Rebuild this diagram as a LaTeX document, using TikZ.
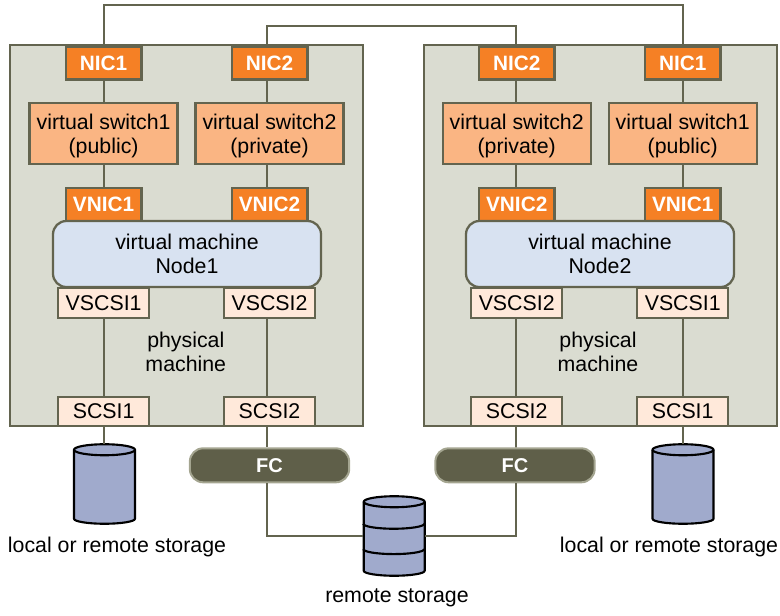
\documentclass[tikz,border=0pt]{standalone}
\usepackage{fontspec}
\setmainfont{Liberation Sans}
\definecolor{wirecol}{HTML}{63644F}
\definecolor{panelcol}{HTML}{DADCD1}
\definecolor{niccol}{HTML}{F58025}
\definecolor{switchcol}{HTML}{FAB583}
\definecolor{vmcol}{HTML}{D8E2F1}
\definecolor{scsicol}{HTML}{FFE9DA}
\definecolor{fccol}{HTML}{5F5F49}
\definecolor{fcedge}{HTML}{A4A590}
\definecolor{diskcol}{HTML}{A0AACC}
\tikzset{
  txt/.style={font=\fontsize{16}{18}\selectfont,align=center,inner sep=0},
  panel/.style={draw=wirecol,line width=1.5pt,fill=panelcol,minimum width=264.8pt,minimum height=285.8pt},
  nicbox/.style={txt,draw=wirecol,line width=2pt,fill=niccol,text=white,font=\fontsize{15.6}{18}\selectfont\bfseries,minimum width=56.5pt,minimum height=24.7pt},
  switchbox/.style={txt,draw=wirecol,line width=1.7pt,fill=switchcol,minimum width=111pt,minimum height=46pt},
  vmbox/.style={txt,draw=wirecol,line width=1.7pt,fill=vmcol,rounded corners=10pt,minimum width=201pt,minimum height=49.5pt},
  scsibox/.style={txt,draw=wirecol,line width=1.5pt,fill=scsicol,minimum width=68.5pt,minimum height=22pt},
  fcbox/.style={txt,draw=fcedge,line width=1.5pt,fill=fccol,text=white,font=\fontsize{15}{18}\selectfont\bfseries,rounded corners=10pt,minimum width=119.5pt,minimum height=25.5pt},
  diskframe/.style={inner sep=0,minimum width=46pt,minimum height=60pt},
  diskline/.style={draw=black,line width=1.6pt,line join=round},
  wire/.style={draw=wirecol,line width=1.4pt}
}
% the can of a storage, hung from the top of its named frame
\newcommand{\diskbody}[1]{
    \begin{scope}[shift={(#1.north)}]
        \filldraw[diskline,fill=diskcol] (-30.5,6) -- (-30.5,75) arc[start angle=180,end angle=0,x radius=30.5,y radius=5] -- (30.5,6) arc[start angle=0,end angle=-180,x radius=30.5,y radius=5.5] -- cycle;
        \draw[diskline] (-30.5,6) arc[start angle=180,end angle=0,x radius=30.5,y radius=5.5];
    \end{scope}
}
\begin{document}
\begin{tikzpicture}[x=0.75pt,y=-0.75pt]
    \useasboundingbox (0,0) rectangle (780,615);
    \node[panel] (panelA) at (186.8,235.8) {};
    \node[panel] (panelB) at (600.2,235.8) {};
    % the four columns, left to right
    \foreach \col/\xc/\num/\kind/\off in {A1/103.6/1/public/0pt,A2/269.5/2/private/-2pt,B2/516.7/2/private/-0.5pt,B1/682.7/1/public/0pt} {
        \node[nicbox] (nic\col) at (\xc,63) {NIC\num};
        \node[switchbox] (switch\col) at (\xc,133.3) {virtual switch\num\\\smash{(\kind)}};
        \node[nicbox] (vnic\col) at (\xc,204.5) {VNIC\num};
        \node[scsibox] (vscsi\col) at (\xc,303) {VSCSI\num};
        \node[scsibox] (scsi\col) at (\xc,411.5) {SCSI\num};
        \draw[wire] ([xshift=\off]nic\col.south) -- ([xshift=\off]switch\col.north);
        \draw[wire] ([xshift=\off]switch\col.south) -- ([xshift=\off]vnic\col.north);
        \draw[wire] ([xshift=\off]vscsi\col.south) -- ([xshift=\off]scsi\col.north);
    }
    \node[vmbox] (vmA) at (187,254) {virtual machine\\Node1};
    \node[vmbox] (vmB) at (600,254) {virtual machine\\Node2};
    \node[txt] (physA) at (185.8,352) {physical\\machine};
    \node[txt] (physB) at (598,352) {physical\\machine};
    \node[fcbox] (fcA) at (269.5,465.3) {FC};
    \node[fcbox] (fcB) at (515,465.3) {FC};
    \node[diskframe] (diskA) at (104.5,484) {};
    \node[diskframe] (diskB) at (683,484) {};
    \node[diskframe] (diskR) at (394.2,536) {};
    \diskbody{diskA}
    \diskbody{diskB}
    \diskbody{diskR}
    % bands of the remote storage
    \draw[diskline] ([yshift=-21pt]diskR.north west) arc[start angle=180,end angle=0,x radius=30.5,y radius=5];
    \draw[diskline] ([yshift=-40pt]diskR.north west) arc[start angle=180,end angle=0,x radius=30.5,y radius=5];
    \node[txt] (labelA) at (117,547) {local or remote storage};
    \node[txt] (labelB) at (669,547) {local or remote storage};
    \node[txt] (labelR) at (397,598) {remote storage};
    % links between the two machines
    \coordinate (topone) at (393,5);
    \coordinate (toptwo) at (393,26);
    \draw[wire] (nicA1.north) |- (topone) -| (nicB1.north);
    \draw[wire] ([xshift=-2pt]nicA2.north) |- (toptwo) -| ([xshift=-0.5pt]nicB2.north);
    \draw[wire] (scsiA1.south) -- (scsiA1.south |- diskA.north);
    \draw[wire] (scsiB1.south) -- (scsiB1.south |- diskB.north);
    \draw[wire] ([xshift=-2pt]scsiA2.south) -- ([xshift=-2pt]fcA.north);
    \draw[wire] ([xshift=-0.5pt]scsiB2.south) -- ([xshift=0.7pt]fcB.north);
    \draw[wire] ([xshift=-2pt]fcA.south) |- (diskR.west);
    \draw[wire] ([xshift=0.7pt]fcB.south) |- (diskR.east);
\end{tikzpicture}
\end{document}
